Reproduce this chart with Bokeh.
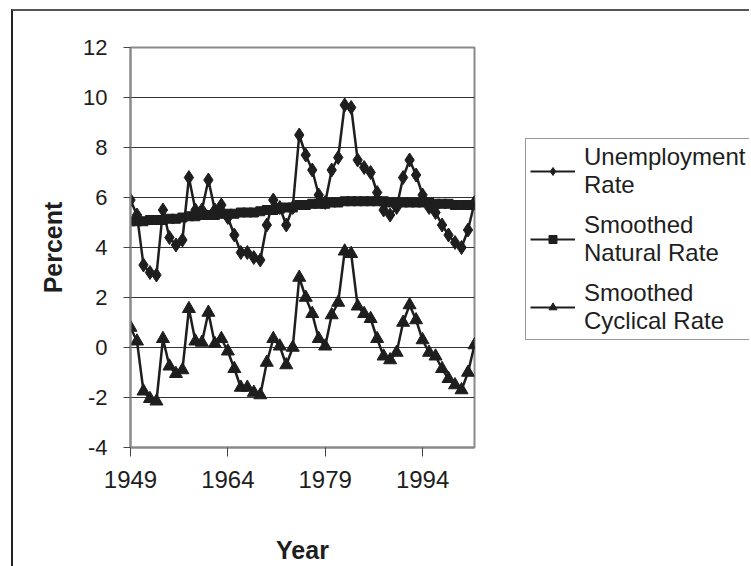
from bokeh.plotting import figure
from bokeh.layouts import row
from bokeh.models import Range1d, FixedTicker, Legend, LegendItem
from bokeh.embed import file_html
from bokeh.resources import INLINE

years = list(range(1949, 2003))
unemployment = [5.9, 5.3, 3.3, 3.0, 2.9, 5.5, 4.4, 4.1, 4.3, 6.8,
                5.5, 5.5, 6.7, 5.5, 5.7, 5.2, 4.5, 3.8, 3.8, 3.6,
                3.5, 4.9, 5.9, 5.6, 4.9, 5.6, 8.5, 7.7, 7.1, 6.1,
                5.8, 7.1, 7.6, 9.7, 9.6, 7.5, 7.2, 7.0, 6.2, 5.5,
                5.3, 5.6, 6.8, 7.5, 6.9, 6.1, 5.6, 5.4, 4.9, 4.5,
                4.2, 4.0, 4.7, 5.8]
natural = [5.05, 5.05, 5.05, 5.1, 5.1, 5.1, 5.15, 5.15, 5.2, 5.25,
           5.25, 5.3, 5.3, 5.3, 5.35, 5.35, 5.35, 5.4, 5.4, 5.4,
           5.45, 5.5, 5.5, 5.55, 5.6, 5.6, 5.7, 5.7, 5.75, 5.75,
           5.75, 5.8, 5.8, 5.85, 5.85, 5.85, 5.85, 5.85, 5.85, 5.85,
           5.8, 5.8, 5.8, 5.8, 5.8, 5.8, 5.8, 5.75, 5.75, 5.75,
           5.7, 5.7, 5.7, 5.7]
cyclical = [0.8, 0.25, -1.75, -2.05, -2.15, 0.35, -0.75, -1.05, -0.9, 1.55,
            0.25, 0.2, 1.4, 0.15, 0.35, -0.15, -0.85, -1.6, -1.6, -1.8,
            -1.9, -0.6, 0.35, 0.05, -0.7, 0.0, 2.8, 2.0, 1.35, 0.35,
            0.05, 1.3, 1.8, 3.85, 3.75, 1.65, 1.35, 1.15, 0.35, -0.35,
            -0.5, -0.2, 1.0, 1.7, 1.1, 0.3, -0.2, -0.35, -0.85, -1.25,
            -1.5, -1.7, -1.0, 0.1]
x_ticks = [1949, 1964, 1979, 1994]
y_ticks = [-4, -2, 0, 2, 4, 6, 8, 10, 12]
labels = ["Unemployment\nRate", "Smoothed\nNatural Rate", "Smoothed\nCyclical Rate"]
series = [unemployment, natural, cyclical]

FONT = "Liberation Sans"
INK = "#1e1e1e"
FRAME = "#8a8a8a"

# ---- main chart ----
p = figure(width=471, height=555, output_backend="svg", toolbar_location=None,
           x_range=Range1d(years[0], years[-1]), y_range=Range1d(y_ticks[0], y_ticks[-1]),
           min_border_left=117, min_border_right=10, min_border_top=36, min_border_bottom=117)

p.background_fill_color = "white"
p.border_fill_color = "white"
p.outline_line_color = FRAME
p.outline_line_width = 2

p.xgrid.visible = False
p.ygrid.ticker = FixedTicker(ticks=y_ticks)
p.ygrid.grid_line_color = "#333333"
p.ygrid.grid_line_width = 1

for ax in (p.xaxis, p.yaxis):
    ax.axis_line_color = FRAME
    ax.axis_line_width = 2
    ax.major_tick_line_color = "#444444"
    ax.major_tick_line_width = 1
    ax.major_tick_in = 0
    ax.minor_tick_line_color = None
    ax.major_label_text_font = FONT
    ax.major_label_text_color = INK
    ax.axis_label_text_font = FONT
    ax.axis_label_text_font_style = "bold"
    ax.axis_label_text_color = INK
    ax.axis_label_text_font_size = "25px"

p.xaxis.ticker = FixedTicker(ticks=x_ticks)
p.yaxis.ticker = FixedTicker(ticks=y_ticks)
p.yaxis.major_label_overrides = {t: str(t) for t in y_ticks}
p.xaxis.major_label_overrides = {t: str(t) for t in x_ticks}
p.xaxis.major_tick_out = 9
p.yaxis.major_tick_out = 7
p.xaxis.major_label_text_font_size = "24px"
p.yaxis.major_label_text_font_size = "22px"
p.xaxis.major_label_standoff = 14
p.yaxis.major_label_standoff = 16
p.xaxis.axis_label = "Year"
p.yaxis.axis_label = "Percent"
p.xaxis.axis_label_standoff = 45
p.yaxis.axis_label_standoff = 13

markers = ["diamond", "square", "triangle"]
plot_sizes = [14, 9, 13]
for vals, mk, ms in zip(series, markers, plot_sizes):
    p.line(years, vals, line_color=INK, line_width=2.5)
    p.scatter(years, vals, marker=mk, size=ms, fill_color=INK, line_color=INK)

# ---- legend panel (own canvas so the box is not clipped by the plot frame) ----
q = figure(width=265, height=555, output_backend="svg", toolbar_location=None,
           x_range=Range1d(0, 1), y_range=Range1d(0, 1),
           x_axis_type=None, y_axis_type=None, min_border=0)
q.outline_line_color = None
q.xgrid.visible = False
q.ygrid.visible = False
q.background_fill_color = "white"
q.border_fill_color = "white"

legend_sizes = [9, 6, 9]
items = []
for lab, vals, mk, ms in zip(labels, series, markers, legend_sizes):
    # same data, lying outside this canvas's 0..1 ranges: only the legend swatch shows
    lr = q.line(years, vals, line_color=INK, line_width=2)
    sr = q.scatter(years, vals, marker=mk, size=ms, fill_color=INK, line_color=INK)
    items.append(LegendItem(label=lab, renderers=[lr, sr]))

legend = Legend(items=items, location=(41, 107))
legend.label_text_font = FONT
legend.label_text_font_size = "24px"
legend.label_text_color = INK
legend.label_text_line_height = 1.35
legend.glyph_width = 45
legend.glyph_height = 20
legend.label_standoff = 9
legend.padding = 4
legend.spacing = 12
legend.margin = 0
legend.border_line_color = "#333333"
legend.border_line_width = 1
legend.background_fill_color = "white"
legend.background_fill_alpha = 1
q.add_layout(legend)

layout = row(p, q, spacing=0,
             styles={"margin-left": "11px", "margin-top": "9px",
                     "border-top": "2px solid #555555", "border-left": "2px solid #222222"})

open("out.html", "w").write(file_html(layout, INLINE))
